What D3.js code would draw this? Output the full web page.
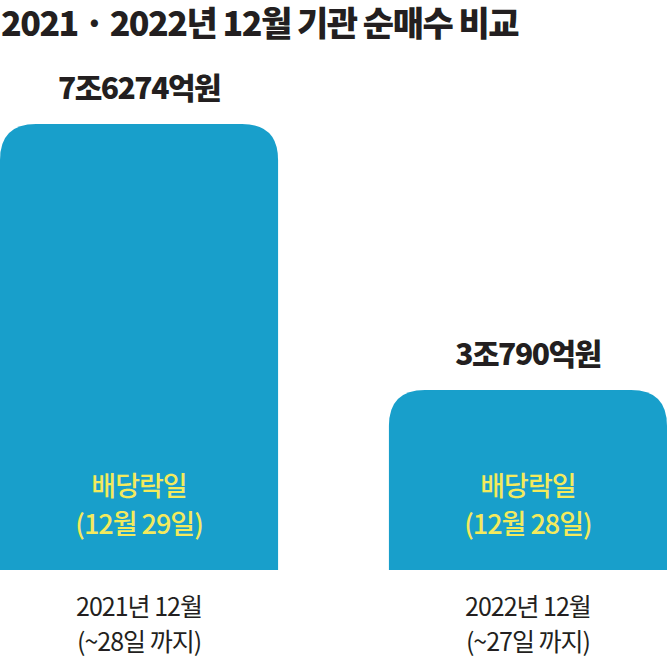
<!DOCTYPE html>
<html><head><meta charset="utf-8">
<script src="https://cdn.jsdelivr.net/npm/d3@7"></script>
<style>body{margin:0;background:#fff}svg{display:block}</style>
</head><body>
<svg id="c" width="667" height="659"></svg>
<script>
const categories = ["2021", "2022"];
const values = [76274, 30790];
const valueLabels = ["7조6274억원", "3조790억원"];
const innerLine1 = ["배당락일", "배당락일"];
const innerLine2 = ["(12월 29일)", "(12월 28일)"];
const bottomLine1 = ["2021년 12월", "2022년 12월"];
const bottomLine2 = ["(~28일 까지)", "(~27일 까지)"];
const title = "2021 · 2022년 12월 기관 순매수 비교";

const svg = d3.select("#c");
const font = "'Noto Sans CJK KR','Noto Sans',sans-serif";
const baseY = 570;
const x = d3.scaleBand().domain(categories).range([0, 667]).paddingInner(0.285).paddingOuter(0);
const y = d3.scaleLinear().domain([0, 76274]).range([baseY, 124]);

svg.append("text").attr("x", 1).attr("y", 36).text(title)
  .attr("font-family", font).attr("font-weight", 900).attr("font-size", 34)
  .attr("letter-spacing", -1.5).attr("fill", "#231f20");

const r = 36;
function barPath(x0, w, top, bot) {
  return `M${x0},${bot}V${top + r}Q${x0},${top} ${x0 + r},${top}H${x0 + w - r}Q${x0 + w},${top} ${x0 + w},${top + r}V${bot}Z`;
}
categories.forEach((c, i) => {
  const x0 = x(c), w = x.bandwidth(), cx = x0 + w / 2, top = y(values[i]);
  svg.append("path").attr("d", barPath(x0, w, top, baseY)).attr("fill", "#189fcb");
  svg.append("text").attr("x", cx).attr("y", top - 25).attr("text-anchor", "middle")
    .attr("font-family", font).attr("font-weight", 900).attr("font-size", 30).attr("letter-spacing", -1.5)
    .attr("fill", "#231f20").text(valueLabels[i]);
  [[innerLine1, 496], [innerLine2, 534]].forEach(([arr, yy]) => {
    svg.append("text").attr("x", cx).attr("y", yy).attr("text-anchor", "middle")
      .attr("font-family", font).attr("font-weight", 500).attr("font-size", 27).attr("letter-spacing", -1)
      .attr("fill", "#f3ea5d").text(arr[i]);
  });
  [[bottomLine1, 616], [bottomLine2, 651]].forEach(([arr, yy]) => {
    svg.append("text").attr("x", cx).attr("y", yy).attr("text-anchor", "middle")
      .attr("font-family", font).attr("font-weight", 400).attr("font-size", 25).attr("letter-spacing", -1)
      .attr("fill", "#231f20").text(arr[i]);
  });
});
</script>
</body></html>
